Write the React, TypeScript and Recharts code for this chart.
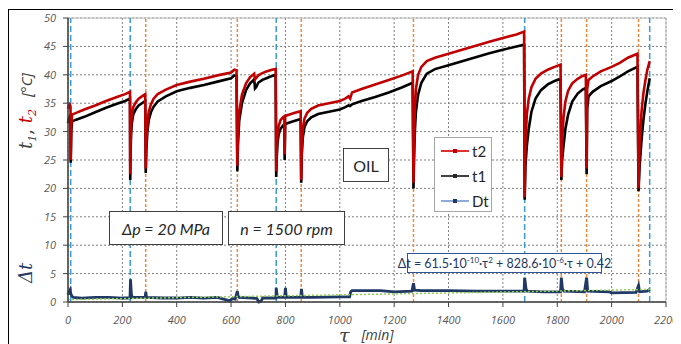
import React from 'react';
import { LineChart, Line, XAxis, YAxis, CartesianGrid, ReferenceLine, ReferenceArea } from 'recharts';

// time [min] and temperatures t1, t2 [°C]
const tau = [
  0, 3, 6, 9, 10, 12, 15, 30, 60, 100, 140, 180, 210, 228,
  229, 230, 232, 235, 240, 250, 260, 272, 284,
  286, 288, 292, 297, 305, 315, 330, 360, 400, 450, 500, 550, 600, 612, 620,
  623, 625, 630, 640, 655, 670, 685, 688, 692, 700, 715, 730, 750, 764,
  766, 768, 771, 775, 782, 790, 796, 797, 799, 802, 815, 835, 856,
  858, 860, 864, 870, 880, 895, 920, 960, 1000, 1020, 1032, 1038, 1045, 1080, 1130, 1180, 1230, 1268,
  1271, 1273, 1276, 1280, 1288, 1300, 1320, 1350, 1400, 1450, 1500, 1550, 1600, 1650, 1678,
  1680, 1683, 1688, 1695, 1705, 1720, 1740, 1765, 1790, 1812,
  1815, 1818, 1823, 1830, 1840, 1855, 1875, 1893, 1905,
  1908, 1910, 1915, 1930, 1960, 2000, 2030, 2060, 2095,
  2099, 2103, 2110, 2117, 2124, 2131, 2140,
];
const t2 = [
  34.0, 34.6, 34.8, 34.5, 25.0, 31.0, 33.0, 33.3, 33.9, 34.6, 35.4, 36.1, 36.6, 37.0,
  22.5, 27.0, 31.0, 33.0, 34.3, 35.2, 35.8, 36.2, 36.6,
  23.5, 28.0, 31.5, 33.5, 34.8, 35.8, 36.6, 37.4, 38.2, 38.8, 39.3, 39.9, 40.4, 40.9, 40.8,
  24.0, 29.0, 33.5, 36.5, 38.5, 39.6, 40.2, 39.2, 39.4, 39.9, 40.3, 40.6, 40.9, 41.0,
  23.0, 27.0, 29.5, 31.0, 32.0, 32.5, 32.7, 26.0, 32.6, 32.8, 33.0, 33.3, 33.6,
  21.5, 27.0, 30.5, 32.3, 33.3, 34.0, 34.6, 35.0, 35.4, 35.8, 36.2, 35.8, 36.9, 37.5, 38.3, 39.1, 39.9, 40.6,
  21.0, 28.0, 34.0, 37.5, 40.0, 41.4, 42.4, 43.0, 43.7, 44.4, 45.1, 45.8, 46.5, 47.1, 47.6,
  18.5, 28.0, 33.0, 35.8, 37.8, 39.3, 40.2, 40.9, 41.4, 41.8,
  22.0, 28.5, 32.5, 35.3, 37.2, 38.5, 39.3, 39.8, 40.0,
  23.5, 37.5, 39.1, 39.7, 40.6, 41.4, 42.1, 43.0, 43.7,
  20.0, 28.0, 33.5, 36.8, 39.0, 40.8, 42.4,
];
const t1 = [
  31.5, 32.3, 32.6, 32.4, 24.5, 30.0, 31.8, 32.1, 32.6, 33.4, 34.2, 34.9, 35.4, 35.8,
  21.5, 25.5, 29.5, 31.5, 33.0, 34.0, 34.6, 35.0, 35.4,
  22.7, 26.5, 30.0, 32.0, 33.4, 34.4, 35.3, 36.2, 37.1, 37.7, 38.2, 38.8, 39.4, 39.9, 39.8,
  23.0, 27.5, 32.0, 35.0, 37.3, 38.5, 39.2, 37.6, 37.8, 38.6, 39.1, 39.4, 39.8, 40.0,
  22.0, 25.5, 28.0, 29.5, 30.5, 31.0, 31.3, 25.0, 31.2, 31.4, 31.6, 31.9, 32.2,
  21.0, 26.0, 29.0, 30.8, 31.8, 32.5, 33.1, 33.5, 33.9, 34.3, 34.6, 34.5, 34.8, 35.4, 36.1, 36.9, 37.8, 38.6,
  20.0, 25.0, 30.0, 33.5, 36.5, 38.6, 40.2, 41.0, 41.7, 42.4, 43.1, 43.8, 44.4, 45.0, 45.3,
  18.0, 24.0, 27.5, 30.5, 33.5, 35.8, 37.3, 38.3, 38.9, 39.3,
  21.5, 25.0, 27.5, 30.5, 33.0, 35.3, 36.7, 37.4, 37.7,
  22.5, 34.0, 36.2, 37.0, 38.0, 38.9, 39.7, 40.6, 41.4,
  19.5, 24.0, 28.5, 32.1, 34.8, 37.0, 39.4,
];

// temperature difference Dt
const dtTau = [
  0, 3, 8, 10, 15, 20, 50, 100, 150, 200, 228, 230, 233, 236, 284, 286, 289,
  350, 400, 450, 500, 550, 595, 605, 615, 623, 626, 630, 680, 695, 702, 710, 716,
  765, 766, 770, 797, 800, 803, 856, 859, 862, 900, 1000, 1036, 1040, 1045,
  1100, 1150, 1200, 1265, 1271, 1275, 1300, 1400, 1500, 1600, 1678, 1680, 1685, 1690,
  1750, 1812, 1815, 1819, 1825, 1900, 1908, 1912, 1990, 2000, 2090, 2099, 2103, 2130, 2140,
];
const dtVal = [
  1.3, 1.8, 2.2, 1.5, 1.0, 0.8, 0.7, 0.8, 0.8, 0.7, 0.7, 4.0, 1.5, 0.8, 0.8, 1.8, 0.8,
  0.7, 0.7, 0.8, 0.7, 0.8, 0.2, 0.6, 0.5, 1.9, 1.0, 0.8, 0.7, 0.6, 0.0, 0.1, 0.7,
  0.7, 2.5, 0.8, 0.8, 2.5, 0.8, 0.8, 2.3, 0.8, 0.8, 0.9, 0.9, 1.8, 2.0,
  2.0, 2.0, 1.8, 1.9, 3.3, 2.1, 2.0, 2.0, 1.9, 1.9, 1.9, 4.3, 2.3, 1.9,
  1.8, 1.8, 4.3, 2.3, 1.9, 1.8, 4.3, 1.9, 1.8, 1.6, 1.7, 2.9, 1.8, 1.9, 2.2,
];

// trend of Dt
const trendTau = [0, 500, 1000, 1500, 2140];
const trendVal = [0.42, 0.85, 1.26, 1.67, 2.22];

const xTicks = [0, 200, 400, 600, 800, 1000, 1200, 1400, 1600, 1800, 2000, 2200];
const yTicks = [0, 5, 10, 15, 20, 25, 30, 35, 40, 45, 50];
const blueLines = [10, 229, 766, 1680, 2140];
const orangeLines = [286, 623, 858, 1271, 1815, 1908, 2099];

const tempData = tau.map((x, i) => ({ tau: x, t1: t1[i], t2: t2[i] }));
const dtData = dtTau.map((x, i) => ({ tau: x, dt: dtVal[i] }));
const trendData = trendTau.map((x, i) => ({ tau: x, trend: trendVal[i] }));

const tickStyle = { fill: '#595959', fontSize: 11, fontStyle: 'italic', fontFamily: 'Open Sans' };

const boxBase: React.CSSProperties = {
  position: 'absolute',
  background: '#fff',
  boxSizing: 'border-box',
  display: 'flex',
  alignItems: 'center',
  justifyContent: 'center',
  whiteSpace: 'nowrap',
};

function LegendRow({ top, color, line, label }: { top: number; color: string; line: string; label: string }) {
  return (
    <div style={{ position: 'absolute', left: 0, top: top - 9, height: 18, width: 58 }}>
      <div style={{ position: 'absolute', left: 6, top: 8, width: 28, height: 1.5, background: line }} />
      <div style={{ position: 'absolute', left: 18, top: 7, width: 4, height: 4, background: color }} />
      <div style={{ position: 'absolute', left: 37, top: 0, fontSize: 15, lineHeight: '18px', color: '#262626', fontFamily: 'Lato' }}>{label}</div>
    </div>
  );
}

export default function App() {
  return (
    <div style={{ position: 'relative', width: 673, height: 336, fontFamily: 'Open Sans' }}>
      <style>{'html,body{overflow:hidden}'}</style>
      <div style={{ position: 'absolute', left: 0, top: 1, width: 673, height: 340, borderTop: '1.5px solid #000', borderLeft: '1.5px solid #000', boxSizing: 'border-box' }} />
      <LineChart width={673} height={336} data={tempData} margin={{ top: 10, right: 15, left: 0, bottom: 0 }}>
        <CartesianGrid strokeDasharray="2 2" stroke="#7f7f7f" />
        <ReferenceArea x1={0} x2={2200} y1={0} y2={50} fill="none" fillOpacity={0} stroke="#bfbfbf" />
        <XAxis
          type="number"
          dataKey="tau"
          domain={[0, 2200]}
          ticks={xTicks}
          interval={0}
          height={42}
          tickSize={5}
          tickMargin={9}
          tick={tickStyle}
          stroke="#404040"
          axisLine={{ stroke: '#404040', strokeWidth: 1.5 }}
        />
        <YAxis
          type="number"
          domain={[0, 50]}
          ticks={yTicks}
          interval={0}
          width={60}
          tickSize={5}
          tickMargin={7}
          tick={tickStyle}
          stroke="#404040"
          axisLine={{ stroke: '#404040', strokeWidth: 1.5 }}
        />
        {blueLines.map((x) => (
          <ReferenceLine key={'b' + x} x={x} stroke="#3a9ad9" strokeWidth={1.5} strokeDasharray="6 3" />
        ))}
        {orangeLines.map((x) => (
          <ReferenceLine key={'o' + x} x={x} stroke="#f0883a" strokeWidth={1.5} strokeDasharray="3 2" />
        ))}
        <Line dataKey="t1" stroke="#000" strokeWidth={2.6} dot={false} isAnimationActive={false} type="linear" />
        <Line dataKey="t2" stroke="#c00000" strokeWidth={2.6} dot={false} isAnimationActive={false} type="linear" />
        <Line data={dtData} dataKey="dt" stroke="#1f3864" strokeWidth={2.8} dot={false} isAnimationActive={false} type="linear" />
        <Line data={trendData} dataKey="trend" stroke="#92d050" strokeWidth={1.5} strokeDasharray="2 2" dot={false} isAnimationActive={false} type="linear" />
      </LineChart>

      {/* Y axis titles */}
      <div style={{ position: 'absolute', left: 19, top: 103, transform: 'translate(-50%,-50%) rotate(-90deg)', whiteSpace: 'nowrap', color: '#404040' }}>
        <span style={{ fontFamily: 'DejaVu Serif', fontStyle: 'italic', fontSize: 18 }}>t</span>
        <sub style={{ fontFamily: 'DejaVu Serif', fontStyle: 'italic', fontSize: 11 }}>1</sub>
        <span style={{ fontFamily: 'DejaVu Serif', fontSize: 18 }}>, </span>
        <span style={{ fontFamily: 'DejaVu Serif', fontStyle: 'italic', fontSize: 18, color: '#c00000' }}>t</span>
        <sub style={{ fontFamily: 'DejaVu Serif', fontStyle: 'italic', fontSize: 11, color: '#c00000' }}>2</sub>
        <span style={{ fontStyle: 'italic', fontSize: 15, marginLeft: 12 }}>[°C]</span>
      </div>
      <div style={{ position: 'absolute', left: 17, top: 265, transform: 'translate(-50%,-50%) rotate(-90deg)', whiteSpace: 'nowrap', color: '#1f3864', fontFamily: 'DejaVu Serif', fontStyle: 'italic', fontSize: 18 }}>
        Δt
      </div>

      {/* X axis title */}
      <div style={{ position: 'absolute', left: 331, top: 319, height: 16, lineHeight: '16px', whiteSpace: 'nowrap', color: '#404040', display: 'flex', alignItems: 'center' }}>
        <span style={{ fontFamily: 'DejaVu Serif', fontStyle: 'italic', fontSize: 19, lineHeight: '16px' }}>τ</span>
        <span style={{ fontStyle: 'italic', fontSize: 14, lineHeight: '16px', marginLeft: 12 }}>[min]</span>
      </div>

      {/* Legend */}
      <div style={{ position: 'absolute', left: 426, top: 129, width: 58, height: 75, background: '#fff', border: '1px solid #a6a6a6', boxSizing: 'border-box' }}>
        <LegendRow top={13} color="#c00000" line="#e03030" label="t2" />
        <LegendRow top={38} color="#262626" line="#404040" label="t1" />
        <LegendRow top={63} color="#1f3864" line="#8faadc" label="Dt" />
      </div>

      {/* Annotation boxes */}
      <div style={{ ...boxBase, left: 335, top: 140, width: 46, height: 34, border: '1.5px solid #404040', fontSize: 16, color: '#262626', fontFamily: 'Lato' }}>OIL</div>
      <div style={{ ...boxBase, left: 101, top: 203, width: 114, height: 34, border: '1.5px solid #404040', fontSize: 16, fontStyle: 'italic', color: '#262626', fontFamily: 'Lato' }}>Δp = 20 MPa</div>
      <div style={{ ...boxBase, left: 220, top: 203, width: 117, height: 34, border: '1.5px solid #404040', fontSize: 16, fontStyle: 'italic', color: '#262626', fontFamily: 'Lato' }}>n = 1500 rpm</div>
      <div style={{ ...boxBase, left: 399, top: 245, width: 195, height: 20, border: '1.5px solid #2f5597', fontSize: 12.5, color: '#1f3864', fontFamily: 'Lato' }}>
        <span>
          Δt = 61.5·10<sup style={{ fontSize: 8 }}>-10</sup>·τ<sup style={{ fontSize: 8 }}>2</sup> + 828.6·10<sup style={{ fontSize: 8 }}>-6</sup>·τ + 0.42
        </span>
      </div>
    </div>
  );
}
